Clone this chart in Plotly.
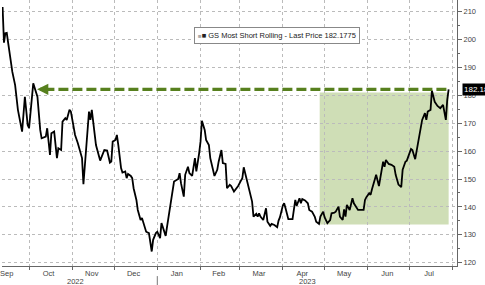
import plotly.graph_objects as go

dates = [
    "2022-09-12", "2022-09-13", "2022-09-14", "2022-09-15", "2022-09-16", "2022-09-18",
    "2022-09-19", "2022-09-21", "2022-09-23", "2022-09-26", "2022-09-28", "2022-09-30",
    "2022-10-01", "2022-10-04", "2022-10-07", "2022-10-09", "2022-10-10", "2022-10-13",
    "2022-10-14", "2022-10-16", "2022-10-17", "2022-10-19", "2022-10-21", "2022-10-22",
    "2022-10-24", "2022-10-25", "2022-10-27", "2022-10-28", "2022-10-30", "2022-10-31",
    "2022-11-03", "2022-11-05", "2022-11-08", "2022-11-09", "2022-11-12", "2022-11-13",
    "2022-11-14", "2022-11-15", "2022-11-17", "2022-11-18", "2022-11-21", "2022-11-23",
    "2022-11-24", "2022-11-26", "2022-11-28", "2022-11-29", "2022-11-30", "2022-12-02",
    "2022-12-03", "2022-12-04", "2022-12-06", "2022-12-07", "2022-12-09", "2022-12-10",
    "2022-12-11", "2022-12-13", "2022-12-14", "2022-12-15", "2022-12-17", "2022-12-18",
    "2022-12-20", "2022-12-21", "2022-12-23", "2022-12-24", "2022-12-26", "2022-12-27",
    "2022-12-28", "2022-12-29", "2022-12-31", "2023-01-01", "2023-01-03", "2023-01-04",
    "2023-01-07", "2023-01-08", "2023-01-10", "2023-01-12", "2023-01-13", "2023-01-16",
    "2023-01-17", "2023-01-18", "2023-01-20", "2023-01-21", "2023-01-23", "2023-01-24",
    "2023-01-26", "2023-01-28", "2023-01-29", "2023-01-31", "2023-02-01", "2023-02-02",
    "2023-02-04", "2023-02-05", "2023-02-07", "2023-02-08", "2023-02-10", "2023-02-11",
    "2023-02-13", "2023-02-14", "2023-02-16", "2023-02-17", "2023-02-19", "2023-02-20",
    "2023-02-22", "2023-02-23", "2023-02-25", "2023-02-28", "2023-03-02", "2023-03-03",
    "2023-03-04", "2023-03-06", "2023-03-07", "2023-03-08", "2023-03-10", "2023-03-11",
    "2023-03-13", "2023-03-14", "2023-03-15", "2023-03-16", "2023-03-18", "2023-03-20",
    "2023-03-21", "2023-03-23", "2023-03-24", "2023-03-26", "2023-03-28", "2023-03-29",
    "2023-03-30", "2023-04-01", "2023-04-02", "2023-04-03", "2023-04-05", "2023-04-07",
    "2023-04-08", "2023-04-10", "2023-04-11", "2023-04-13", "2023-04-14", "2023-04-15",
    "2023-04-17", "2023-04-19", "2023-04-20", "2023-04-22", "2023-04-24", "2023-04-25",
    "2023-04-27", "2023-04-28", "2023-04-30", "2023-05-01", "2023-05-03", "2023-05-05",
    "2023-05-06", "2023-05-08", "2023-05-09", "2023-05-11", "2023-05-12", "2023-05-14",
    "2023-05-15", "2023-05-16", "2023-05-17", "2023-05-19", "2023-05-21", "2023-05-22",
    "2023-05-24", "2023-05-25", "2023-05-27", "2023-05-29", "2023-05-30", "2023-05-31",
    "2023-06-02", "2023-06-03", "2023-06-04", "2023-06-06", "2023-06-07", "2023-06-09",
    "2023-06-10", "2023-06-12", "2023-06-13", "2023-06-14", "2023-06-16", "2023-06-18",
    "2023-06-20", "2023-06-21", "2023-06-23", "2023-06-25", "2023-06-26", "2023-06-28",
    "2023-06-29", "2023-06-30", "2023-07-02", "2023-07-03", "2023-07-04", "2023-07-05",
    "2023-07-07", "2023-07-09", "2023-07-10", "2023-07-12", "2023-07-13", "2023-07-14",
    "2023-07-16", "2023-07-17", "2023-07-19", "2023-07-21", "2023-07-23", "2023-07-25",
    "2023-07-26", "2023-07-27", "2023-07-28", "2023-07-29",
]

values = [
    211.7, 198.9, 202.3, 202.4, 198.8, 191.6,
    188.4, 183.7, 174.8, 167.0, 179.5, 169.4,
    168.2, 184.3, 179.5, 167.6, 164.6, 165.2,
    168.2, 158.6, 166.4, 167.0, 157.5, 161.0,
    160.4, 170.6, 171.8, 171.2, 174.8, 174.2,
    165.8, 162.8, 157.5, 148.1, 170.0, 174.2,
    171.2, 174.8, 166.4, 162.2, 156.6, 159.2,
    160.4, 160.2, 155.9, 156.3, 163.4, 164.0,
    165.8, 162.2, 153.9, 152.3, 152.7, 150.3,
    151.8, 151.1, 150.3, 146.7, 142.5, 138.9,
    135.3, 136.0, 132.9, 131.1, 130.6, 126.7,
    124.0, 128.2, 130.6, 131.1, 128.8, 134.2,
    129.6, 132.9, 140.1, 146.7, 149.1, 150.0,
    152.1, 148.5, 143.7, 151.5, 154.4, 152.1,
    151.1, 157.5, 152.7, 159.2, 163.4, 170.9,
    167.6, 164.0, 162.2, 157.5, 153.3, 151.1,
    153.3, 156.2, 160.4, 155.7, 155.4, 146.7,
    147.9, 147.5, 145.5, 147.5, 149.4, 150.3,
    154.2, 150.3, 147.9, 146.7, 141.9, 136.5,
    137.5, 136.5, 137.7, 136.5, 135.3, 139.5,
    134.7, 133.2, 133.9, 133.5, 132.7, 135.1,
    136.3, 140.4, 141.3, 139.5, 135.6, 135.6,
    135.6, 142.5, 140.4, 143.1, 141.3, 142.8,
    142.3, 141.3, 138.9, 138.3, 136.4, 134.7,
    133.9, 136.5, 138.3, 136.3, 134.2, 135.3,
    137.7, 137.9, 138.3, 140.1, 136.5, 135.3,
    139.1, 136.5, 140.7, 138.9, 143.1, 141.3,
    139.5, 138.9, 138.9, 138.9, 142.5, 143.5,
    144.9, 144.3, 146.3, 150.3, 151.5, 147.5,
    150.9, 156.2, 154.4, 156.8, 155.4, 155.1,
    154.4, 151.5, 148.0, 147.1, 153.3, 156.2,
    156.6, 158.3, 160.8, 160.4, 158.6, 157.1,
    162.8, 169.4, 171.2, 173.6, 171.2, 174.2,
    174.8, 181.7, 177.7, 176.2, 175.4, 176.6,
    174.2, 171.2, 178.4, 182.1775,
]

last_price = 182.1775
series_name = "GS Most Short Rolling - Last Price 182.1775"

month_starts = ["2022-10-01", "2022-11-01", "2022-12-01", "2023-01-01", "2023-02-01",
                "2023-03-01", "2023-04-01", "2023-05-01", "2023-06-01", "2023-07-01",
                "2023-08-01"]
month_mids = ["2022-09-15", "2022-10-15", "2022-11-15", "2022-12-15", "2023-01-15",
              "2023-02-14", "2023-03-15", "2023-04-15", "2023-05-15", "2023-06-15",
              "2023-07-15"]
month_labels = ["Sep", "Oct", "Nov", "Dec", "Jan", "Feb", "Mar", "Apr", "May", "Jun", "Jul"]
year_labels = ["2022", "2023"]
year_positions = ["2022-11-03", "2023-04-19"]
y_ticks = [120, 130, 140, 150, 160, 170, 180, 190, 200, 210]

shade_start = "2023-04-27 12:00"
shade_low = 133.7
shade_high = 181.0
arrow_tip = "2022-10-06 18:00"
arrow_tail = "2022-10-12"

GREEN = "#57801e"
SHADE = "#cfdeb6"
FONT = "Liberation Sans"

fig = go.Figure()

fig.add_shape(type="rect", xref="x", yref="y", x0=shade_start, x1=dates[-1],
              y0=shade_low, y1=shade_high, fillcolor=SHADE, line_width=0, layer="below")

fig.add_trace(go.Scatter(x=dates, y=values, mode="lines",
                         line=dict(color="black", width=1.8), showlegend=False,
                         hoverinfo="skip"))

fig.add_trace(go.Scatter(x=[arrow_tail, dates[-1]], y=[last_price, last_price], mode="lines",
                         line=dict(color=GREEN, width=3.2, dash="10px,4px"),
                         showlegend=False, hoverinfo="skip"))

fig.add_annotation(x=arrow_tip, y=last_price, ax=arrow_tail, ay=last_price,
                   xref="x", yref="y", axref="x", ayref="y", text="",
                   showarrow=True, arrowhead=2, arrowsize=0.75, arrowwidth=3,
                   arrowcolor=GREEN)

# legend box
fig.add_annotation(xref="paper", yref="paper", x=0.604, y=0.898,
                   text="<span style='color:#aaa;font-size:6px'>■</span>■ " + series_name,
                   showarrow=False, font=dict(family=FONT, size=7.5, color="#222"),
                   bgcolor="white", bordercolor="#888", borderwidth=1, borderpad=3)

# last price tag
fig.add_annotation(xref="paper", yref="y", x=1, y=last_price, xanchor="left", xshift=5,
                   text=f"{last_price:.2f}", showarrow=False,
                   font=dict(family=FONT, size=8, color="white"),
                   bgcolor="black", borderpad=1)

for lbl, pos in zip(year_labels, year_positions):
    fig.add_annotation(xref="x", yref="paper", x=pos, y=-0.058, text=lbl, showarrow=False,
                       yanchor="middle", font=dict(family=FONT, size=7.5, color="#444"))

fig.add_shape(type="line", xref="x", yref="paper", x0="2023-01-01", x1="2023-01-01",
              y0=-0.038, y1=-0.075, line=dict(color="#777", width=1))

fig.update_layout(
    width=485, height=285,
    margin=dict(l=0, r=28, t=0, b=19),
    paper_bgcolor="white", plot_bgcolor="white",
    font=dict(family=FONT, size=7.5, color="#444"),
    xaxis=dict(
        range=["2022-09-11 14:00", "2023-08-04"],
        tickmode="array", tickvals=month_mids, ticktext=month_labels,
        ticks="", showgrid=False, showline=True, linecolor="#666", linewidth=1,
        ticklabeloverflow="allow",
        tickfont=dict(size=7.5, color="#444"),
        minor=dict(tickmode="array", tickvals=month_starts, ticks="outside", ticklen=3,
                   tickcolor="#666", showgrid=True, gridcolor="#bbbbbb",
                   griddash="dot", gridwidth=1),
        zeroline=False,
    ),
    yaxis=dict(
        side="right", range=[118.8, 214.2],
        tickmode="array", tickvals=y_ticks, ticks="outside", ticklen=4,
        tickcolor="#666", showline=True, linecolor="#666", linewidth=1,
        showgrid=True, gridcolor="#bbbbbb", griddash="dot", gridwidth=1,
        minor=dict(dtick=5, ticks="outside", ticklen=2, tickcolor="#666", showgrid=False),
        tickfont=dict(size=7.5, color="#444"), zeroline=False,
    ),
)

fig.write_html("out.html")
